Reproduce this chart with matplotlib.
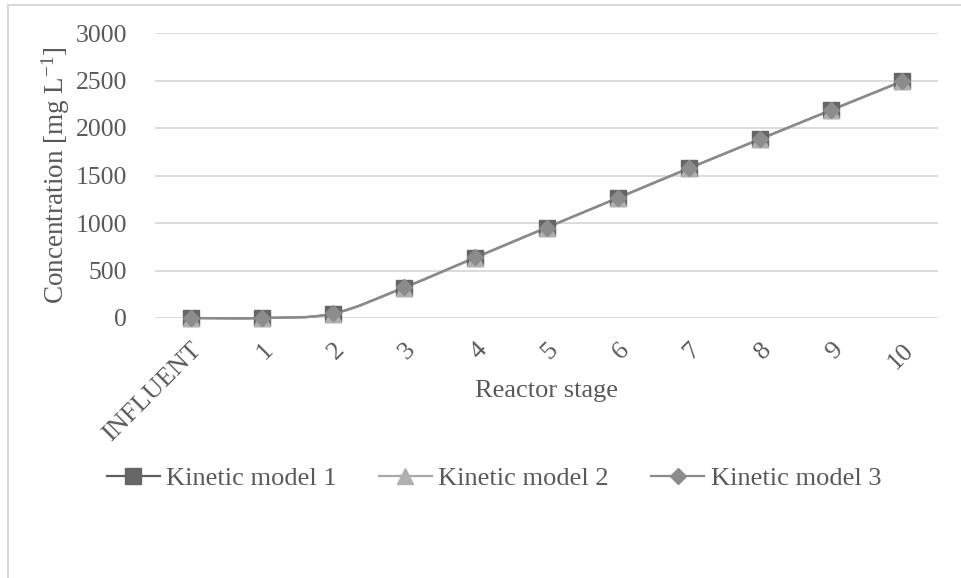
import matplotlib
matplotlib.use("Agg")
import matplotlib.pyplot as plt
from matplotlib.path import Path
from matplotlib.patches import PathPatch
from matplotlib.lines import Line2D
import numpy as np

plt.rcParams['font.family'] = ['Liberation Serif', 'DejaVu Serif']
plt.rcParams['mathtext.fontset'] = 'custom'
plt.rcParams['mathtext.rm'] = 'Liberation Serif'

stages = ["INFLUENT", "1", "2", "3", "4", "5", "6", "7", "8", "9", "10"]
model_1 = [0, 0, 45, 320, 635, 950, 1262, 1575, 1882, 2188, 2492]
model_2 = [0, 0, 45, 320, 635, 950, 1262, 1575, 1882, 2188, 2492]
model_3 = [0, 0, 48, 322, 638, 952, 1264, 1577, 1884, 2190, 2494]
series_names = ["Kinetic model 1", "Kinetic model 2", "Kinetic model 3"]

TEXT = "#595959"
GRID = "#d9d9d9"

fig = plt.figure(figsize=(9.61, 5.78), dpi=100)
ax = fig.add_axes([155 / 961, 1 - 318 / 578, (938 - 155) / 961, (318 - 33) / 578])


def smooth_path(xs, ys):
    """Cubic Bezier through all points (Catmull-Rom style, 1/6 tension)."""
    xs = np.asarray(xs, float)
    ys = np.asarray(ys, float)
    pts = np.column_stack([xs, ys])
    n = len(pts)
    verts = [pts[0]]
    codes = [Path.MOVETO]
    for i in range(n - 1):
        p0 = pts[i - 1] if i > 0 else pts[i]
        p1 = pts[i]
        p2 = pts[i + 1]
        p3 = pts[i + 2] if i + 2 < n else pts[i + 1]
        c1 = p1 + (p2 - p0) / 6.0
        c2 = p2 - (p3 - p1) / 6.0
        verts += [c1, c2, p2]
        codes += [Path.CURVE4] * 3
    return Path(verts, codes)


x = np.arange(len(stages))
styles = [
    (model_1, "#5f5f5f", "s", 11.0, "#666666"),
    (model_2, "#a8a8a8", "^", 11.0, "#b0b0b0"),
    (model_3, "#8a8a8a", "D", 8.0, "#8c8c8c"),
]

handles = []
for (vals, lc, mk, ms, mc), name in zip(styles, series_names):
    ax.add_patch(PathPatch(smooth_path(x, vals), facecolor="none",
                           edgecolor=lc, lw=1.6, zorder=3, clip_on=False))
    ax.plot(x, vals, linestyle="none", marker=mk, markersize=ms,
            markerfacecolor=mc, markeredgecolor=mc, zorder=4, clip_on=False)
    handles.append(Line2D([], [], color=lc, lw=1.6, marker=mk,
                          markersize=ms, markerfacecolor=mc,
                          markeredgecolor=mc))

ax.set_xlim(-0.5, len(stages) - 0.5)
ax.set_ylim(0, 3000)
ax.set_yticks(np.arange(0, 3001, 500))
ax.set_xticks(x)
ax.set_xticklabels(stages, rotation=45, ha="right", rotation_mode="anchor")
ax.yaxis.grid(True, color=GRID, lw=1.3)
ax.set_axisbelow(True)
for s in ax.spines.values():
    s.set_visible(False)
ax.tick_params(axis="y", length=0, labelsize=18.5, colors=TEXT, pad=20)
ax.tick_params(axis="x", length=0, labelsize=19, colors=TEXT, pad=15)

ax.set_xlabel("Reactor stage", fontsize=19, color=TEXT)
ax.xaxis.set_label_coords(0.5, (318 - 380) / 285)
ax.set_ylabel(r"Concentration [mg $\mathregular{L^{-1}}$]", fontsize=19.5,
              color=TEXT)
ax.yaxis.set_label_coords(-(155 - 72) / 783, 0.5)

fig.legend(handles=handles, labels=series_names, loc="center",
           bbox_to_anchor=(494 / 961, 1 - 478 / 578), ncol=3, frameon=False,
           fontsize=19, labelcolor=TEXT, handlelength=2.0,
           handletextpad=0.25, columnspacing=1.6)

# chart frame
fig.add_artist(Line2D([7.5 / 961, 1], [1 - 4.5 / 578, 1 - 4.5 / 578],
                      transform=fig.transFigure, color=GRID, lw=1.5))
fig.add_artist(Line2D([7.5 / 961, 7.5 / 961], [0, 1 - 4.5 / 578],
                      transform=fig.transFigure, color=GRID, lw=1.5))

fig.savefig("out.png", dpi=100, facecolor="white")
